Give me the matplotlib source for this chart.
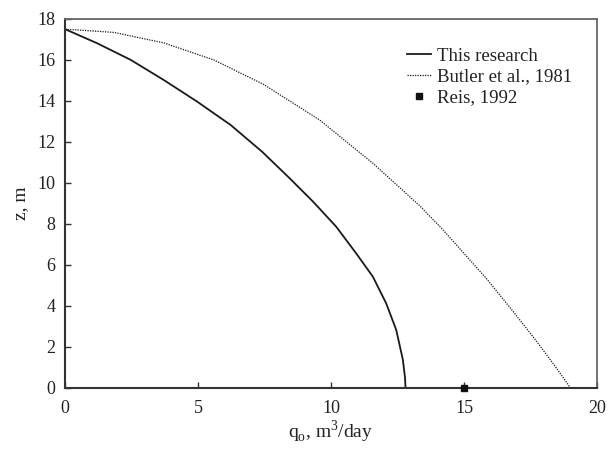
import matplotlib
matplotlib.use("Agg")
import matplotlib.pyplot as plt

plt.rcParams['font.family'] = ['Liberation Serif', 'DejaVu Serif']
plt.rcParams['mathtext.fontset'] = 'custom'
plt.rcParams['mathtext.rm'] = 'Liberation Serif'

# this research curve (q in m3/day vs z in m)
q_this = [0, 1.21, 2.47, 3.71, 4.96, 6.22, 7.4, 8.44, 9.32, 10.19, 10.94, 11.57,
          12.07, 12.45, 12.7, 12.78, 12.8]
z_this = [17.5, 16.81, 16.0, 15.02, 13.97, 12.83, 11.53, 10.23, 9.09, 7.87, 6.57, 5.43,
          4.13, 2.83, 1.37, 0.5, 0]

# Butler et al., 1981
q_butler = [0, 1.84, 3.71, 5.59, 7.47, 9.57, 11.57, 13.32, 14.2, 15.83, 16.8, 17.58, 18.4, 19.0]
z_butler = [17.5, 17.34, 16.83, 16.0, 14.8, 13.07, 10.96, 8.9, 7.72, 5.35, 3.8, 2.52, 1.1, 0]

# Reis, 1992 (single point)
q_reis = [15.0]
z_reis = [0.0]

fig, ax = plt.subplots(figsize=(6.08, 4.5), dpi=100)
fig.subplots_adjust(left=0.107, right=0.982, top=0.958, bottom=0.138)

ax.plot(q_this, z_this, color='#1a1a1a', lw=1.3, label='This research')
ax.plot(q_butler, z_butler, color='#1a1a1a', lw=0.9, ls=(0, (1, 1)), label='Butler et al., 1981')
ax.plot(q_reis, z_reis, ls='none', marker='s', ms=5, color='#111111', clip_on=False,
        zorder=5, label='Reis, 1992')

ax.set_xlim(0, 20)
ax.set_ylim(0, 18)
ax.set_xticks([0, 5, 10, 15, 20])
ax.set_yticks(range(0, 19, 2))
ax.tick_params(direction='in', length=4, width=1, colors='#333333', labelsize=13,
               labelcolor='#222222', pad=7)
ax.tick_params(axis='x', pad=9)

for s in ['left', 'bottom']:
    ax.spines[s].set_color('#333333')
    ax.spines[s].set_linewidth(1.5)
for s in ['top', 'right']:
    ax.spines[s].set_color('#666666')
    ax.spines[s].set_linewidth(1.3)

ax.set_xlabel(r'q$_\mathrm{o}$, m$^3$/day', fontsize=14, color='#222222', labelpad=1)
ax.set_ylabel('z, m', fontsize=14, color='#222222', labelpad=6)

leg = ax.legend(loc='upper right', bbox_to_anchor=(0.985, 0.968), frameon=False,
                fontsize=13.5, handlelength=1.3, handletextpad=0.3, labelspacing=0.2)
for t in leg.get_texts():
    t.set_color('#222222')

fig.savefig('out.png', dpi=100)
